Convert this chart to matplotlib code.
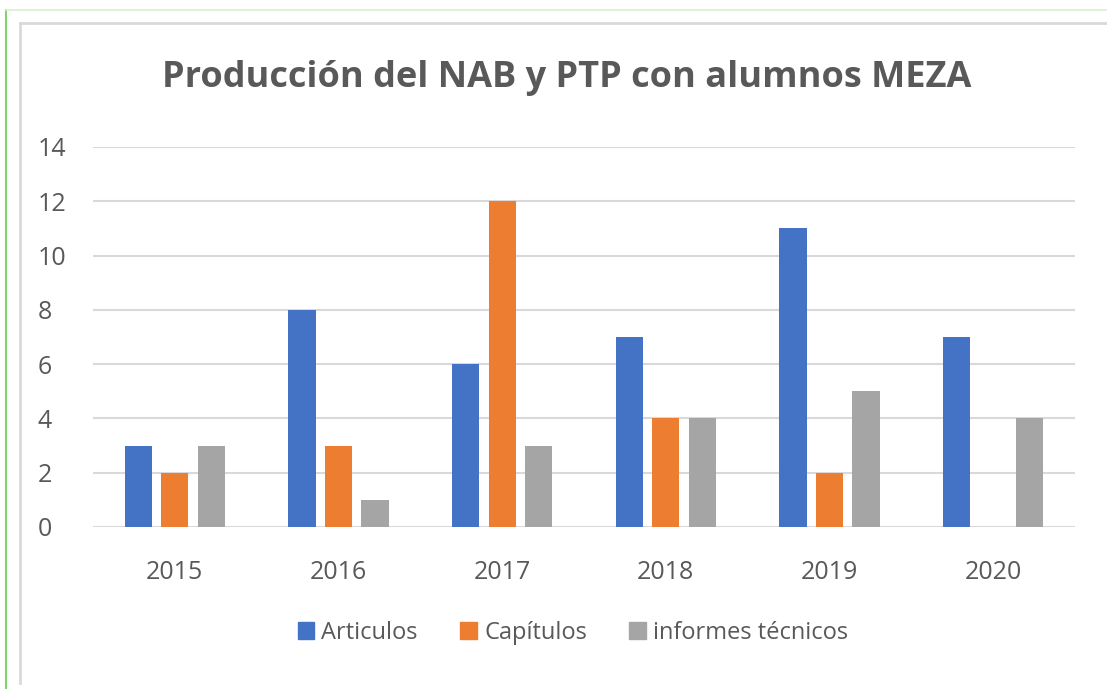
import matplotlib.pyplot as plt
import numpy as np
from matplotlib.lines import Line2D
from matplotlib.patches import Rectangle

# 資料
years = ["2015", "2016", "2017", "2018", "2019", "2020"]
articulos = [3, 8, 6, 7, 11, 7]
capitulos = [2, 3, 12, 4, 2, 0]
informes = [3, 1, 3, 4, 5, 4]
series_names = ["Articulos", "Capítulos", "informes técnicos"]
colors = ["#4472C4", "#ED7D31", "#A5A5A5"]

plt.rcParams['font.family'] = ['Open Sans', 'DejaVu Sans']

fig = plt.figure(figsize=(11.07, 6.89), dpi=100)
W, H = 1107, 689

# 外框（綠線與灰框）
fig.add_artist(Line2D([6 / W, 6 / W], [0, 1 - 10 / H], color="#7ED36A", lw=1.5))
fig.add_artist(Line2D([6 / W, 1], [1 - 10 / H, 1 - 10 / H], color="#D8F0D0", lw=1.2))
fig.add_artist(Line2D([20 / W, 20 / W], [1 - 683 / H, 1 - 23 / H], color="#D9D9D9", lw=2))
fig.add_artist(Line2D([20 / W, 1], [1 - 23 / H, 1 - 23 / H], color="#D9D9D9", lw=2))

ax = fig.add_axes([93 / W, 1 - 527 / H, (1075 - 93) / W, 380 / H])

x = np.arange(len(years))
width = 0.165
step = 0.223
for i, (vals, name, c) in enumerate(zip([articulos, capitulos, informes], series_names, colors)):
    ax.bar(x + (i - 1) * step, vals, width, color=c, label=name, zorder=3)

ax.set_xlim(-0.5, len(years) - 0.5)
ax.set_ylim(0, 14)
ax.set_yticks(range(0, 15, 2))
ax.set_xticks(x)
ax.set_xticklabels(years)
ax.yaxis.grid(True, color="#D9D9D9", lw=1.5, zorder=0)
ax.set_axisbelow(True)
for s in ax.spines.values():
    s.set_visible(False)
ax.tick_params(axis="both", length=0, labelsize=18, colors="#595959")
ax.tick_params(axis="x", pad=24)
ax.tick_params(axis="y", pad=40)
for lbl in ax.get_yticklabels():
    lbl.set_horizontalalignment("left")

fig.text(567 / W, 1 - 78 / H, "Producción del NAB y PTP con alumnos MEZA",
         ha="center", va="center", fontsize=26, fontweight="bold", color="#595959")

handles = [Rectangle((0, 0), 1, 1, color=c) for c in colors]
fig.legend(handles, series_names, loc="center", bbox_to_anchor=(573 / W, 1 - 633 / H),
           ncol=3, frameon=False, fontsize=17, handlelength=0.7, handleheight=0.7,
           handletextpad=0.3, columnspacing=1.8, labelcolor="#595959")

fig.savefig("out.png", dpi=100)
